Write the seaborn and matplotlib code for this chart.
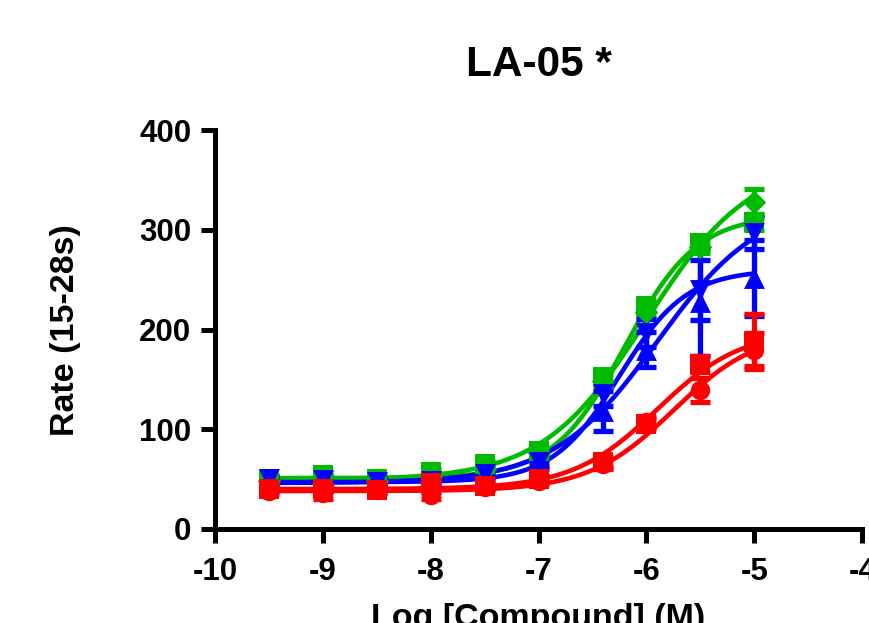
import numpy as np
import pandas as pd
import matplotlib
matplotlib.use("Agg")
import matplotlib.pyplot as plt
import seaborn as sns

# ------------------------------------------------------------------
# data (log molar concentrations, rate values)
# ------------------------------------------------------------------
LOG_CONC = [-9.5, -9.0, -8.5, -8.0, -7.5, -7.0, -6.4, -6.0, -5.5, -5.0]

green_sq = [50, 54, 50, 57, 65, 78, 152, 224, 287, 308]
green_sq_err = [3, 3, 3, 3, 3, 4, 6, 6, 6, 8]
green_dm = [48, 51, 48, 53, 60, 76, 148, 218, 283, 328]
green_dm_err = [3, 3, 3, 3, 3, 4, 6, 6, 6, 13]

blue_dn = [50, 49, 47, 48, 55, 67, 135, 197, 240, 297]
blue_dn_err = [3, 3, 3, 3, 3, 4, 12, 14, 30, 16]
blue_up = [47, 46, 48, 45, 52, 64, 118, 180, 228, 252]
blue_up_err = [3, 3, 3, 3, 3, 4, 20, 18, 55, 38]

red_sq = [40, 40, 39, 46, 43, 50, 67, 105, 165, 188]
red_sq_err = [3, 3, 3, 3, 3, 3, 5, 5, 8, 28]
red_ci = [38, 36, 39, 34, 42, 48, 65, 107, 139, 180]
red_ci_err = [3, 6, 3, 4, 3, 3, 5, 5, 12, 17]

# fitted 4-parameter logistic curves: bottom, top, logEC50, hill slope
fit_green_sq = [51, 315, -6.2, 1.3]
fit_green_dm = [49, 370, -6.0, 0.9]
fit_blue_dn = [46, 330, -5.9, 0.9]
fit_blue_up = [47, 260, -6.25, 1.4]
fit_red_sq = [40, 200, -5.9, 1.1]
fit_red_ci = [38, 200, -5.75, 1.1]

GREEN, BLUE, RED = "#00BB00", "#0000FF", "#FF0000"

series = [
    ("G1", green_sq, green_sq_err, fit_green_sq, GREEN, "s", 14),
    ("G2", green_dm, green_dm_err, fit_green_dm, GREEN, "D", 12),
    ("B1", blue_dn, blue_dn_err, fit_blue_dn, BLUE, "v", 15),
    ("B2", blue_up, blue_up_err, fit_blue_up, BLUE, "^", 15),
    ("R1", red_sq, red_sq_err, fit_red_sq, RED, "s", 14),
    ("R2", red_ci, red_ci_err, fit_red_ci, RED, "o", 14),
]


def logistic(x, p):
    bottom, top, ec50, hill = p
    return bottom + (top - bottom) / (1 + 10 ** ((ec50 - x) * hill))


# ------------------------------------------------------------------
# plot
# ------------------------------------------------------------------
sns.set_style("ticks")
plt.rcParams['font.family'] = ['Liberation Sans', 'DejaVu Sans']
plt.rcParams['font.weight'] = 'bold'
for key in ["text.color", "axes.labelcolor", "xtick.color", "ytick.color",
            "axes.edgecolor"]:
    plt.rcParams[key] = "black"

fig = plt.figure(figsize=(8.7, 6.23), dpi=100)
ax = fig.add_axes([0.247, 0.151, 0.744, 0.640])

xs = np.linspace(LOG_CONC[0], LOG_CONC[-1], 200)
curve_rows = []
for name, vals, err, fit, col, mk, ms in series:
    for x in xs:
        curve_rows.append({"x": x, "y": logistic(x, fit), "s": name})
curves = pd.DataFrame(curve_rows)

for name, vals, err, fit, col, mk, ms in series:
    sub = curves[curves["s"] == name]
    sns.lineplot(data=sub, x="x", y="y", color=col, lw=3.3, ax=ax,
                 legend=False, zorder=2)
    ax.errorbar(LOG_CONC, vals, yerr=err, fmt="none", ecolor=col,
                elinewidth=3.8, capsize=7, capthick=3.8, zorder=3)
    pts = pd.DataFrame({"x": LOG_CONC, "y": vals})
    sns.scatterplot(data=pts, x="x", y="y", color=col, marker=mk, s=ms ** 2,
                    edgecolor=col, linewidth=0, ax=ax, legend=False, zorder=4)

ax.set_xlim(-10, -4)
ax.set_ylim(0, 400)
ax.set_xticks([-10, -9, -8, -7, -6, -5, -4])
ax.set_yticks([0, 100, 200, 300, 400])
ax.set_xticklabels(["-10", "-9", "-8", "-7", "-6", "-5", "-4"])

for side in ["top", "right"]:
    ax.spines[side].set_visible(False)
for side in ["left", "bottom"]:
    ax.spines[side].set_linewidth(3.6)
ax.tick_params(axis="both", width=3.6, length=10, labelsize=22.5)
ax.tick_params(axis="x", pad=10)
ax.tick_params(axis="y", pad=7)
for lab in ax.get_xticklabels() + ax.get_yticklabels():
    lab.set_fontweight("bold")

ax.set_xlabel("Log [Compound] (M)", fontsize=24.5, fontweight="bold", labelpad=12)
ax.set_ylabel("Rate (15-28s)", fontsize=24.5, fontweight="bold", labelpad=42)

fig.text(0.620, 0.896, "LA-05 *", ha="center", va="center",
         fontsize=30.5, fontweight="bold")

fig.savefig("out.png", dpi=100)
